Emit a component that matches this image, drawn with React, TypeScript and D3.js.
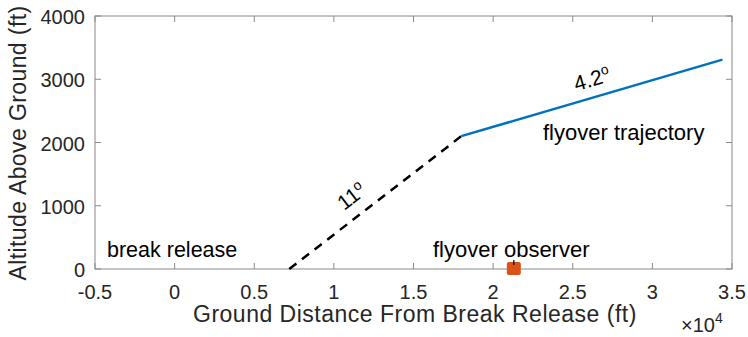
import * as d3 from 'd3';

// data (x in ft, y in ft)
const glideX = [7200, 18000];
const glideY = [0, 2100];
const flyX = [18000, 34400];
const flyY = [2100, 3310];
const observerX = [21300];
const observerY = [0];
const xTicks = [-0.5, 0, 0.5, 1, 1.5, 2, 2.5, 3, 3.5];
const yTicks = [0, 1000, 2000, 3000, 4000];

const W = 748;
const H = 337;
const margin = { top: 16, right: 16, bottom: 68, left: 95 };

const App = () => {
  const x = d3.scaleLinear().domain([-5000, 35000]).range([margin.left, W - margin.right]);
  const y = d3.scaleLinear().domain([0, 4000]).range([H - margin.bottom, margin.top]);
  const line = d3.line<[number, number]>().x(d => x(d[0])).y(d => y(d[1]));

  const glide = glideX.map((v, i) => [v, glideY[i]] as [number, number]);
  const fly = flyX.map((v, i) => [v, flyY[i]] as [number, number]);

  const [x0, x1] = x.range();
  const [y0, y1] = y.range();
  const tickLen = 6;
  const font = "'Liberation Sans', Arial, Helvetica, sans-serif";
  const axisColor = '#8a8a8a';
  const textColor = '#262626';

  // text angle along each segment
  const ang = (p: [number, number][]) =>
    (Math.atan2(y(p[1][1]) - y(p[0][1]), x(p[1][0]) - x(p[0][0])) * 180) / Math.PI;

  return (
    <svg width={W} height={H} style={{ position: 'absolute', left: 0, top: 0, fontFamily: font }}>
      <rect x={0} y={0} width={W} height={H} fill="#fff" />

      {/* box */}
      <rect x={x0} y={y1} width={x1 - x0} height={y0 - y1} fill="none" stroke={axisColor} strokeWidth={1} />

      {xTicks.map(t => (
        <g key={'x' + t}>
          <line x1={x(t * 1e4)} x2={x(t * 1e4)} y1={y0} y2={y0 - tickLen} stroke={axisColor} />
          <line x1={x(t * 1e4)} x2={x(t * 1e4)} y1={y1} y2={y1 + tickLen} stroke={axisColor} />
          <text x={x(t * 1e4)} y={y0 + 30} fontSize={20} textAnchor="middle" fill={textColor}>
            {t}
          </text>
        </g>
      ))}
      {yTicks.map(t => (
        <g key={'y' + t}>
          <line x1={x0} x2={x0 + tickLen} y1={y(t)} y2={y(t)} stroke={axisColor} />
          <line x1={x1} x2={x1 - tickLen} y1={y(t)} y2={y(t)} stroke={axisColor} />
          <text x={x0 - 10} y={y(t) + 8} fontSize={20} textAnchor="end" fill={textColor}>
            {t}
          </text>
        </g>
      ))}

      <text x={193} y={322} fontSize={23} letterSpacing={0.5} fill={textColor}>
        Ground Distance From Break Release (ft)
      </text>
      <text x={681} y={332} fontSize={20} fill={textColor}>
        ×10<tspan dy={-9} fontSize={14}>4</tspan>
      </text>
      <text
        transform={`translate(26,143) rotate(-90)`}
        fontSize={23}
        letterSpacing={0.4}
        textAnchor="middle"
        fill={textColor}
      >
        Altitude Above Ground (ft)
      </text>

      {/* trajectories */}
      <path d={line(glide) ?? ''} fill="none" stroke="#000" strokeWidth={2.5} strokeDasharray="9 7" />
      <path d={line(fly) ?? ''} fill="none" stroke="#0072BD" strokeWidth={2.5} />

      {/* observer */}
      {observerX.map((v, i) => (
        <g key={'o' + i}>
          <rect x={x(v) - 7} y={y(observerY[i]) - 7} width={14} height={13} rx={2} fill="#D95319" />
          <line x1={x(v)} x2={x(v)} y1={y(observerY[i]) - 9} y2={y(observerY[i]) - 4} stroke="#000" strokeWidth={1.2} />
        </g>
      ))}

      {/* annotations */}
      <text x={107} y={257} fontSize={21.5} fill="#000">
        break release
      </text>
      <text x={433} y={257} fontSize={22} fill="#000">
        flyover observer
      </text>
      <text x={543} y={140} fontSize={22} fill="#000">
        flyover trajectory
      </text>
      <text transform={`translate(356,202) rotate(${ang(glide)})`} fontSize={21} fill="#000" textAnchor="middle">
        11<tspan dy={-8} fontSize={14}>o</tspan>
      </text>
      <text transform={`translate(594,86) rotate(${ang(fly)})`} fontSize={21} fill="#000" textAnchor="middle">
        4.2<tspan dy={-8} fontSize={14}>o</tspan>
      </text>
    </svg>
  );
};

export default App;
